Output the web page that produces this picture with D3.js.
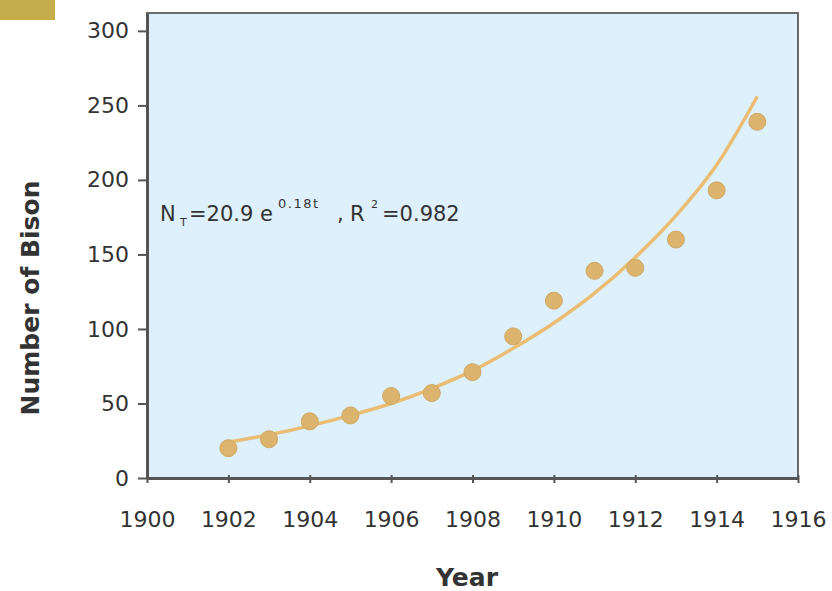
<!DOCTYPE html>
<html>
<head>
<meta charset="utf-8">
<script src="https://cdn.jsdelivr.net/npm/d3@7"></script>
<style>
  body { margin: 0; background: #fff; }
  text { font-family: "DejaVu Sans", sans-serif; fill: #333; }
</style>
</head>
<body>
<svg id="chart" width="832" height="591"></svg>
<script>
var years = [1902, 1903, 1904, 1905, 1906, 1907, 1908, 1909, 1910, 1911, 1912, 1913, 1914, 1915];
var bison = [20, 26, 38, 42, 55, 57, 71, 95, 119, 139, 141, 160, 193, 239];
// fitted curve at each year
var fitted = [24, 29, 35, 42, 50, 60, 72, 87, 104, 124, 148, 176, 210, 256];

var xTicks = [1900, 1902, 1904, 1906, 1908, 1910, 1912, 1914, 1916];
var yTicks = [0, 50, 100, 150, 200, 250, 300];

var margin = {top: 13, right: 34, bottom: 113, left: 147},
    width = 832 - margin.left - margin.right,
    height = 591 - margin.top - margin.bottom;

var svg = d3.select("#chart");

// small gold tab in the corner
svg.append("rect")
    .attr("x", 0).attr("y", 0)
    .attr("width", 55).attr("height", 20)
    .attr("fill", "#c6ad4c");

var g = svg.append("g")
    .attr("transform", "translate(" + margin.left + "," + margin.top + ")");

var x = d3.scaleLinear().domain([1900, 1916]).range([0, width]);
var y = d3.scaleLinear().domain([0, 312]).range([height, 0]);

g.append("rect")
    .attr("width", width)
    .attr("height", height)
    .attr("fill", "#def0fb")
    .attr("stroke", "#6a6a6a")
    .attr("stroke-width", 2);

// fitted line
var line = d3.line()
    .x(function(d, i) { return x(years[i]); })
    .y(function(d) { return y(d); })
    .curve(d3.curveMonotoneX);

g.append("path")
    .datum(fitted)
    .attr("fill", "none")
    .attr("stroke", "#eabd72")
    .attr("stroke-width", 3.5)
    .attr("d", line);

// points
g.selectAll(".dot")
    .data(bison)
    .enter()
    .append("circle")
      .attr("class", "dot")
      .attr("cx", function(d, i) { return x(years[i]); })
      .attr("cy", function(d) { return y(d); })
      .attr("r", 8.5)
      .attr("fill", "#dcb46e")
      .attr("stroke", "#cfa760")
      .attr("stroke-width", 1);

// axes
var xAxis = d3.axisBottom(x).tickValues(xTicks).tickFormat(d3.format("d"))
    .tickSizeInner(5).tickSizeOuter(0).tickPadding(28);
var yAxis = d3.axisLeft(y).tickValues(yTicks)
    .tickSizeInner(9).tickSizeOuter(0).tickPadding(9);

var gx = g.append("g")
    .attr("transform", "translate(0," + height + ")")
    .call(xAxis);
gx.selectAll("line").attr("stroke", "#555").attr("stroke-width", 2).attr("y1", -3).attr("y2", 5);
gx.select(".domain").attr("stroke", "#555").attr("stroke-width", 3);
gx.selectAll("text").style("font-size", "22px").attr("fill", "#333");

var gy = g.append("g").call(yAxis);
gy.selectAll("line").attr("stroke", "#555").attr("stroke-width", 2);
gy.select(".domain").attr("stroke", "#555").attr("stroke-width", 3);
gy.selectAll("text").style("font-size", "22px").attr("fill", "#333");

// equation
var eq = g.append("text")
    .attr("y", 208)
    .style("font-size", "21px");
eq.append("tspan").attr("x", 13).text("N");
eq.append("tspan").attr("x", 33).attr("dy", 5).style("font-size", "11px").text("T");
eq.append("tspan").attr("x", 42).attr("dy", -5).text("=20.9 e");
eq.append("tspan").attr("x", 131).attr("dy", -13).style("font-size", "13px")
    .style("letter-spacing", "1.5px").text("0.18t");
eq.append("tspan").attr("x", 190).attr("dy", 13).text(",");
eq.append("tspan").attr("x", 203).text("R");
eq.append("tspan").attr("x", 224).attr("dy", -13).style("font-size", "11px").text("2");
eq.append("tspan").attr("x", 235).attr("dy", 13).text("=0.982");

// axis titles
svg.append("text")
    .attr("x", 467)
    .attr("y", 586)
    .style("text-anchor", "middle")
    .style("font-size", "25px")
    .style("font-weight", "bold")
    .text("Year");

svg.append("text")
    .attr("transform", "rotate(-90)")
    .attr("x", -298)
    .attr("y", 39)
    .style("text-anchor", "middle")
    .style("font-size", "25px")
    .style("font-weight", "bold")
    .text("Number of Bison");
</script>
</body>
</html>
